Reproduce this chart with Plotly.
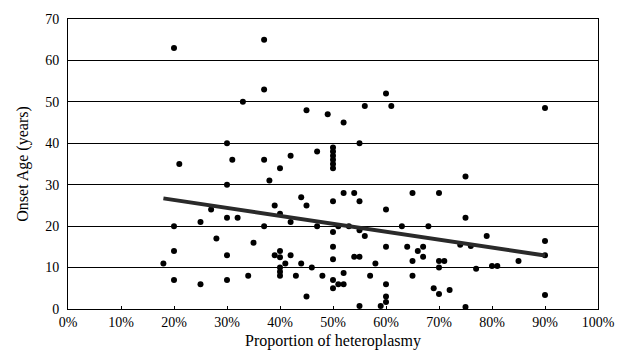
import plotly.graph_objects as go

# Scatter points: proportion of heteroplasmy (%) and onset age (years)
het_pct = [20, 21, 20, 20, 18, 20, 25, 37, 37, 33, 45, 49, 30, 31, 37, 42, 47, 40,
           30, 38, 44, 45, 39, 27, 40, 25, 30, 32, 42, 47, 37, 28, 35, 30, 39, 40,
           40, 42, 41, 44, 40, 40, 40, 46, 43, 48, 34, 30, 45,
           60, 56, 61, 52, 55, 50, 50, 50, 50, 50, 50,
           52, 54, 65, 70, 50, 55, 60, 50, 51, 53, 55, 56, 63, 68,
           50, 60, 64, 66, 67, 67, 50, 54, 55, 65, 70, 71, 58, 70,
           52, 50, 51, 52, 50, 57, 65, 60, 69, 70, 72, 60, 60, 55, 59,
           90, 75, 75, 79, 90, 90, 74, 76, 85, 80, 81, 77, 90, 75]
onset_age = [63, 35, 20, 14, 11, 7, 6, 65, 53, 50, 48, 47, 40, 36, 36, 37, 38, 34,
             30, 31, 27, 25, 25, 24, 23, 21, 22, 22, 21, 20, 20, 17, 16, 13, 13, 14,
             12.5, 13, 11, 11, 10, 9, 8, 10, 8, 8, 8, 7, 3,
             52, 49, 49, 45, 40, 39, 38, 37, 36, 35, 34,
             28, 28, 28, 28, 26, 26, 24, 18.6, 20, 20, 19, 17.6, 20, 20,
             15, 15, 15, 14, 15, 12.6, 12, 12.6, 12.6, 11.6, 11.6, 11.6, 11, 10,
             8.7, 7, 6, 6, 5, 8, 8, 6, 5, 3.6, 4.6, 3, 1.7, 0.7, 0.7,
             48.5, 32, 22, 17.6, 16.4, 13, 15.5, 15.2, 11.6, 10.4, 10.4, 9.7, 3.4, 0.5]

# Trend line endpoints
trend_x = [18, 90]
trend_y = [26.7, 12.9]

x_ticks = [0, 10, 20, 30, 40, 50, 60, 70, 80, 90, 100]
y_ticks = [0, 10, 20, 30, 40, 50, 60, 70]

serif = "Liberation Serif"

fig = go.Figure()
fig.add_trace(go.Scatter(
    x=het_pct, y=onset_age, mode="markers",
    marker=dict(color="black", size=6),
    showlegend=False, cliponaxis=False,
))
fig.add_trace(go.Scatter(
    x=trend_x, y=trend_y, mode="lines",
    line=dict(color="#2a2a2a", width=4),
    showlegend=False,
))

fig.update_layout(
    width=627, height=362,
    margin=dict(l=68, r=26, t=19, b=53),
    paper_bgcolor="white", plot_bgcolor="white",
    font=dict(family=serif, color="black", size=14),
    xaxis=dict(
        range=[0, 100], tickvals=x_ticks,
        ticktext=[f"{v}%" for v in x_ticks],
        showgrid=False, zeroline=False,
        showline=True, linecolor="black", linewidth=1, mirror=True,
        ticks="inside", ticklen=3, tickcolor="black",
        title=dict(text="Proportion of heteroplasmy", font=dict(size=16), standoff=6),
        tickfont=dict(size=14),
    ),
    yaxis=dict(
        range=[0, 70], tickvals=y_ticks,
        showgrid=True, gridcolor="black", gridwidth=1, zeroline=False,
        showline=True, linecolor="black", linewidth=1, mirror=True,
        ticks="", ticklabelstandoff=5,
        title=dict(text="Onset Age (years)", font=dict(size=16), standoff=12),
        tickfont=dict(size=14),
    ),
)

fig.write_html("out.html")
